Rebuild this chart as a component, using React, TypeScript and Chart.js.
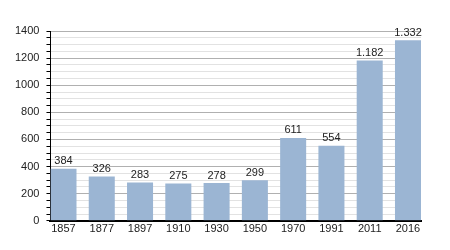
import React, { useEffect, useRef } from "react";
import { Chart, registerables } from "chart.js";

Chart.register(...registerables);

const years = ["1857", "1877", "1897", "1910", "1930", "1950", "1970", "1991", "2011", "2016"];
const population = [384, 326, 283, 275, 278, 299, 611, 554, 1182, 1332];
const yMax = 1400;
const majorStep = 200;
const minorStep = 50;

function formatThousands(v: number): string {
  const s = String(Math.round(v));
  return s.replace(/\B(?=(\d{3})+(?!\d))/g, ".");
}

const valueLabels = {
  id: "valueLabels",
  afterDatasetsDraw(chart: any) {
    const ctx = chart.ctx;
    const meta = chart.getDatasetMeta(0);
    ctx.save();
    ctx.font = "11px 'Liberation Sans', Arial, sans-serif";
    ctx.fillStyle = "#222";
    ctx.textAlign = "center";
    ctx.textBaseline = "bottom";
    meta.data.forEach((bar: any, i: number) => {
      ctx.fillText(formatThousands(population[i]), bar.x, bar.y - 2);
    });
    ctx.restore();
  },
};

export default function App() {
  const ref = useRef<HTMLCanvasElement>(null);
  useEffect(() => {
    if (!ref.current) return;
    const halfBar = 0.34;
    const chart = new Chart(ref.current, {
      type: "bar",
      data: {
        datasets: [
          {
            data: population.map((v, i) => ({ x: i, y: v })),
            backgroundColor: "#9bb5d3",
            borderWidth: 0,
            barPercentage: 0.68,
            categoryPercentage: 1,
          },
        ],
      },
      plugins: [valueLabels],
      options: {
        animation: false,
        responsive: false,
        maintainAspectRatio: false,
        layout: { padding: { top: 31, right: 29, left: 8, bottom: 12 } },
        plugins: { legend: { display: false }, tooltip: { enabled: false } },
        scales: {
          x: {
            type: "linear",
            offset: false,
            min: -halfBar,
            max: years.length - 1 + halfBar,
            grid: { display: false, drawTicks: false },
            border: { display: true, color: "#000", width: 2 },
            ticks: {
              stepSize: 1,
              includeBounds: false,
              autoSkip: false,
              maxRotation: 0,
              color: "#222",
              padding: 2,
              font: { family: "'Liberation Sans', Arial, sans-serif", size: 11 },
              callback: (v: any) => years[Number(v)] ?? "",
            },
          },
          y: {
            min: 0,
            max: yMax,
            border: { display: true, color: "#000", width: 1 },
            grid: {
              color: (c: any) => (c.tick && c.tick.value % majorStep === 0 ? "#b0b0b0" : "#e2e2e2"),
              tickColor: "#000",
              tickLength: 4,
            },
            ticks: {
              stepSize: minorStep,
              autoSkip: false,
              color: "#222",
              padding: 7,
              font: { family: "'Liberation Sans', Arial, sans-serif", size: 11 },
              callback: (v: any) => (Number(v) % majorStep === 0 ? String(v) : ""),
            },
          },
        },
      },
    } as any);
    return () => chart.destroy();
  }, []);
  return (
    <div style={{ position: "fixed", left: 0, top: 0, width: 450, height: 250, background: "#fff" }}>
      <canvas ref={ref} width={450} height={250} style={{ width: 450, height: 250 }} />
    </div>
  );
}
